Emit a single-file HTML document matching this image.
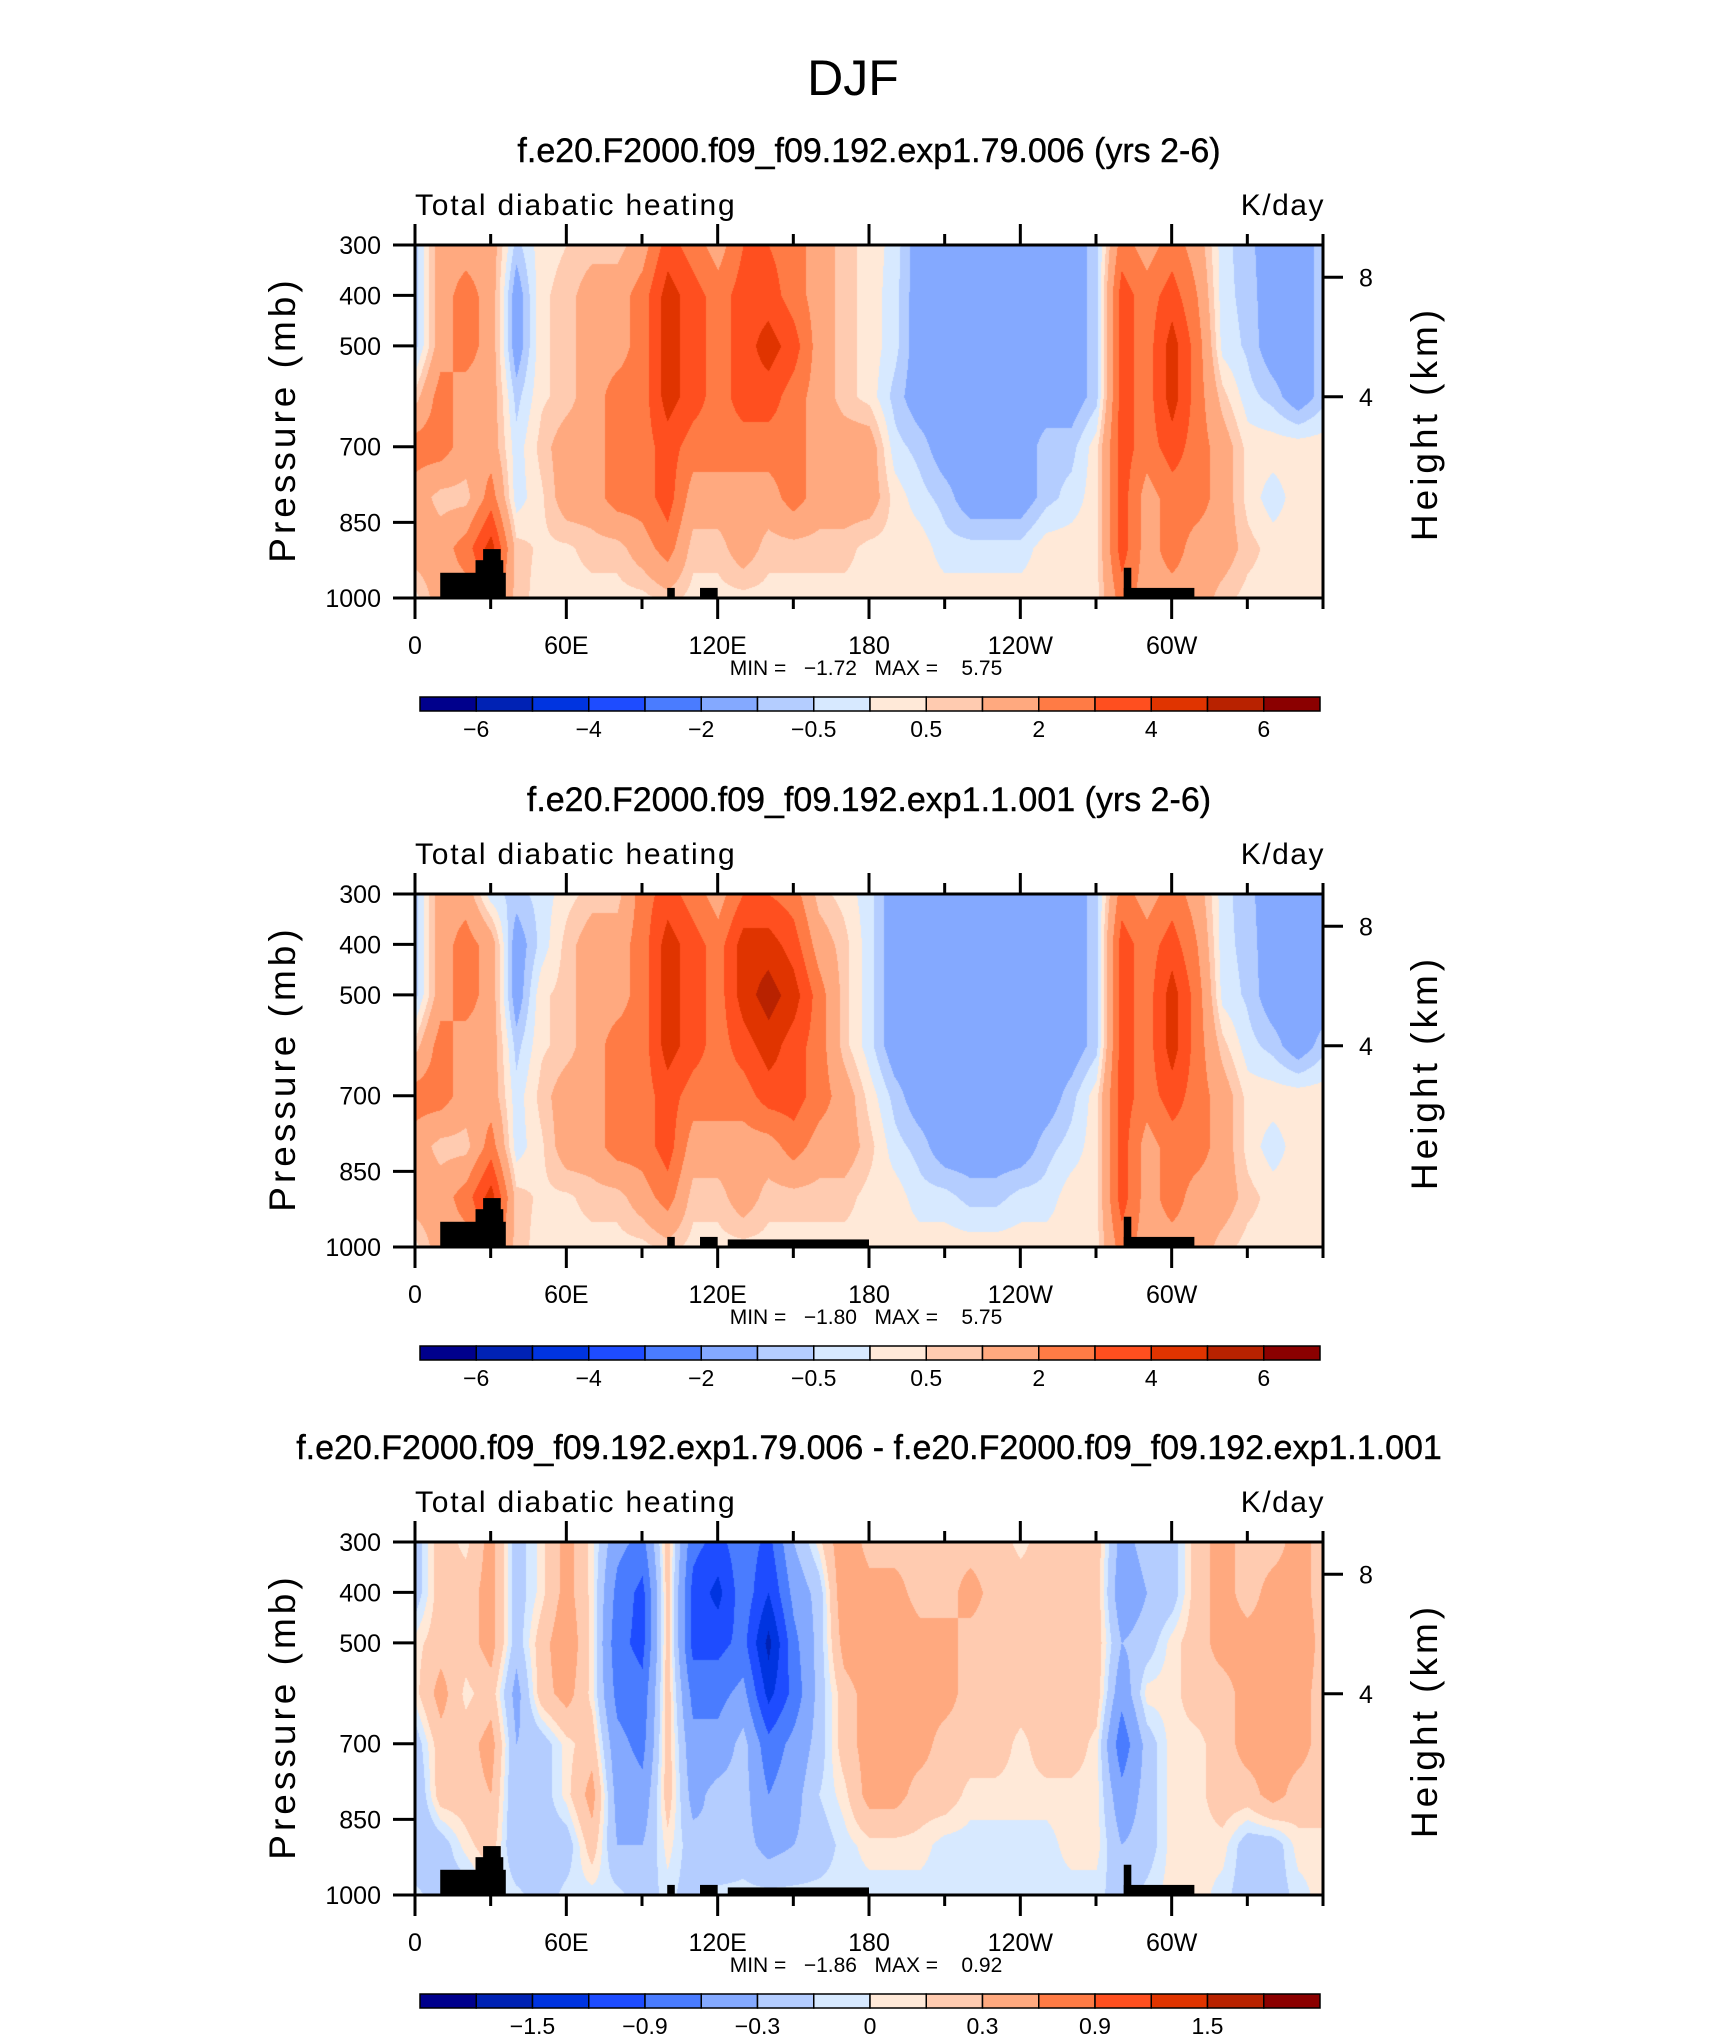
<!DOCTYPE html>
<html><head><meta charset="utf-8">
<style>
html,body{margin:0;padding:0;background:#fff;}
#wrap{position:relative;width:1710px;height:2038px;overflow:hidden;background:#fff;}
canvas{position:absolute;}
svg{position:absolute;left:0;top:0;}
text{font-family:"Liberation Sans",sans-serif;fill:#000;white-space:pre;}
</style></head>
<body>
<div id="wrap">
<canvas id="c0" width="908" height="353" style="left:415px;top:245px"></canvas>
<canvas id="c1" width="908" height="353" style="left:415px;top:894px"></canvas>
<canvas id="c2" width="908" height="353" style="left:415px;top:1542px"></canvas>
<svg id="svg" width="1710" height="2038">
<text x="853" y="95" font-size="50" text-anchor="middle">DJF</text>
</svg>
</div>
<script>
const lons = [0,10,20,30,40,50,60,70,80,90,100,110,120,130,140,150,160,170,180,190,200,210,220,230,240,250,260,270,280,290,300,310,320,330,340,350,360];
const levels = [300,400,500,600,700,800,900,1000];
const titles = ["f.e20.F2000.f09_f09.192.exp1.79.006 (yrs 2-6)","f.e20.F2000.f09_f09.192.exp1.1.001 (yrs 2-6)","f.e20.F2000.f09_f09.192.exp1.79.006 - f.e20.F2000.f09_f09.192.exp1.1.001"];
const minVals = ["\u22121.72","\u22121.80","\u22121.86"];
const maxVals = ["5.75","5.75","0.92"];
const xTickLabels = ["0","60E","120E","180","120W","60W"];
const pTicks = [300,400,500,700,850,1000];
const hTicks = [8,4];
const hTickP = [364,601];
const boundsAbs = [-6,-5,-4,-3,-2,-1,-0.5,0,0.5,1,2,3,4,5,6];
const boundsDiff = [-1.8,-1.5,-1.2,-0.9,-0.6,-0.3,-0.1,0,0.1,0.3,0.6,0.9,1.2,1.5,1.8];
const cbLabelsAbs = ["\u22126","\u22124","\u22122","\u22120.5","0.5","2","4","6"];
const cbLabelIdxAbs = [0,2,4,6,8,10,12,14];
const cbLabelsDiff = ["\u22121.5","\u22120.9","\u22120.3","0","0.3","0.9","1.5"];
const cbLabelIdxDiff = [1,3,5,7,9,11,13];
const colors = ["#00008c","#0022b4","#0034e0","#1e4cff","#4a7cff","#84a9ff","#b4cdff","#d7e9ff","#ffe9d8","#ffcbb0","#ffa97f","#ff7b45","#ff4f1f","#e03400","#b82200","#8b0000"];
const panel1 = [
[-0.7,1.5,1.5,1.5,-0.7,0.3,0.5,0.7,0.7,1.5,3.5,2.5,1.5,3,3,2.5,1.5,0.7,0.3,-0.2,-1.5,-1.5,-1.5,-1.5,-1.5,-1.5,-1.5,-0.7,2.5,1.5,2.5,1.5,-0.3,-0.8,-1.5,-1.5,-0.7],
[-0.7,1.5,2.5,1.5,-1.5,0.4,0.7,1.5,1.5,2.5,4.5,3.5,2.5,3.5,3.5,2.5,1.5,0.7,0.3,-0.3,-1.5,-1.5,-1.5,-1.5,-1.5,-1.5,-1.5,-0.7,3.5,2.5,3.5,2,-0.3,-0.7,-1.5,-1.5,-0.7],
[-0.7,1.5,2.5,1.5,-1.5,0.4,0.7,1.5,1.5,2.5,4.5,3.5,2.5,3.5,4.5,3.5,1.5,0.7,0.3,-0.3,-1.5,-1.5,-1.5,-1.5,-1.5,-1.5,-1.5,-0.7,3.5,2.5,4.5,2.5,-0.2,-0.6,-1.5,-1.5,-0.7],
[0.7,2.5,1.5,1.5,-0.7,0.4,0.7,1.5,2.5,2.5,4.5,3.5,2.5,3.5,3.5,2.5,1.5,0.7,0.3,-0.7,-1.5,-1.5,-1.5,-1.5,-1.5,-1.5,-1.5,-0.7,3.5,2.5,4.5,2.5,0.7,-0.3,-0.7,-1.5,-0.7],
[2.5,2.5,1.5,1.5,-0.3,0.7,1.5,1.5,2.5,2.5,3.5,2.5,2.5,2.5,2.5,2.5,1.5,1.5,1.5,-0.3,-0.7,-1.5,-1.5,-1.5,-1.5,-0.7,-0.7,0.3,3.5,2.5,3.5,2.5,1.5,0.3,0.3,0.3,0.3],
[1.5,0.7,0.7,2.5,-0.3,0.4,1.5,1.5,2.5,2.5,3.5,1.5,1.5,1.5,1.5,2.5,1.5,1.5,1.5,0.3,-0.3,-0.7,-1.5,-1.5,-1.5,-0.7,-0.3,0.3,3.5,1.5,2.5,2.5,1.5,0.3,-0.3,0.3,0.3],
[1.5,1.5,2.5,4.5,0.7,0.4,0.4,0.7,0.7,1.5,2.5,0.7,0.7,1.5,0.7,0.7,0.7,0.7,0.3,0.3,0.3,-0.3,-0.3,-0.3,-0.3,0.3,0.3,0.3,3.5,1.5,2.5,1.5,1.5,0.7,0.3,0.3,0.3],
[0.3,1.5,1.5,3,0.7,0.3,0.3,0.3,0.3,0.3,0.7,0.3,0.3,0.3,0.3,0.3,0.3,0.3,0.3,0.3,0.3,0.3,0.3,0.3,0.3,0.3,0.3,0.3,2.5,1.5,1.5,1.5,0.7,0.3,0.3,0.3,0.3]];
const panel2 = [
[-0.7,1.5,1.5,-0.3,-0.7,-0.3,0.3,0.7,0.7,2.5,3.5,2.5,1.5,3,3,2.5,0.7,0.3,-0.3,-1.5,-1.5,-1.5,-1.5,-1.5,-1.5,-1.5,-1.5,-0.7,2.5,1.5,2.5,1.5,-0.3,-0.8,-1.5,-1.5,-1.5],
[-0.7,1.5,2.5,1.5,-1.5,-0.3,0.7,1.5,1.5,2.5,4.5,3.5,2.5,4.5,4.5,3.5,1.5,0.7,-0.3,-1.5,-1.5,-1.5,-1.5,-1.5,-1.5,-1.5,-1.5,-0.7,3.5,2.5,3.5,2,-0.3,-0.7,-1.5,-1.5,-1.5],
[-0.7,1.5,2.5,1.5,-1.5,0.4,0.7,1.5,1.5,2.5,4.5,3.5,2.5,4.5,5.5,4.5,2.5,0.7,-0.3,-1.5,-1.5,-1.5,-1.5,-1.5,-1.5,-1.5,-1.5,-0.7,3.5,2.5,4.5,2.5,-0.2,-0.6,-1.5,-1.5,-1.5],
[0.7,2.5,1.5,1.5,-0.7,0.4,0.7,1.5,2.5,2.5,4.5,3.5,2.5,3.5,4.5,3.5,2.5,0.7,-0.3,-1.5,-1.5,-1.5,-1.5,-1.5,-1.5,-1.5,-1.5,-0.7,3.5,2.5,4.5,2.5,0.7,-0.3,-0.7,-1.5,-0.7],
[2.5,2.5,1.5,1.5,-0.3,0.7,1.5,1.5,2.5,2.5,3.5,2.5,2.5,2.5,3.5,3.5,2.5,1.5,0.3,-0.7,-1.5,-1.5,-1.5,-1.5,-1.5,-1.5,-0.7,0.3,3.5,2.5,3.5,2.5,1.5,0.3,0.3,0.3,0.3],
[1.5,0.7,0.7,2.5,-0.3,0.4,1.5,1.5,2.5,2.5,3.5,1.5,1.5,1.5,1.5,2.5,1.5,1.5,0.7,-0.3,-0.7,-1.5,-1.5,-1.5,-1.5,-0.7,-0.3,0.3,3.5,1.5,2.5,2.5,1.5,0.3,-0.3,0.3,0.3],
[1.5,1.5,2.5,4.5,0.7,0.4,0.4,0.7,0.7,1.5,2.5,0.7,0.7,1.5,0.7,0.7,0.7,0.7,0.3,0.3,-0.3,-0.3,-0.7,-0.7,-0.3,-0.3,0.3,0.3,3.5,1.5,2.5,1.5,1.5,0.7,0.3,0.3,0.3],
[0.3,1.5,1.5,3,0.7,0.3,0.3,0.3,0.3,0.3,0.7,0.3,0.3,0.3,0.3,0.3,0.3,0.3,0.3,0.3,0.3,0.3,0.3,0.3,0.3,0.3,0.3,0.3,2.5,1.5,1.5,1.5,0.7,0.3,0.3,0.3,0.3]];
const panel3 = [
[-0.2,0.2,0.05,0.4,-0.2,0.05,0.4,0.05,-0.5,-0.7,0.2,-0.8,-1.0,-0.7,-1.0,-0.3,0.05,0.5,0.2,0.2,0.2,0.2,0.2,0.2,0.05,0.2,0.2,0.2,-0.4,-0.2,-0.2,0.2,0.4,0.2,0.2,0.4,0.2],
[-0.2,0.2,0.2,0.4,-0.2,0.05,0.4,0.05,-0.7,-1.0,0.2,-1.0,-1.3,-0.7,-1.2,-0.5,-0.2,0.5,0.4,0.4,0.2,0.2,0.4,0.2,0.2,0.2,0.2,0.2,-0.5,-0.3,-0.2,0.2,0.4,0.2,0.4,0.4,0.2],
[0.05,0.2,0.2,0.4,-0.2,0.2,0.5,0.05,-0.8,-1.0,0.2,-1.0,-1.0,-0.8,-1.6,-0.7,-0.2,0.4,0.5,0.5,0.4,0.4,0.2,0.2,0.2,0.2,0.2,0.2,-0.3,-0.2,0.05,0.2,0.4,0.4,0.4,0.5,0.2],
[0.05,0.4,0.05,0.2,-0.4,0.2,0.4,0.05,-0.7,-0.8,0.2,-0.7,-0.7,-0.5,-1.3,-0.8,-0.2,0.2,0.4,0.4,0.4,0.4,0.2,0.2,0.2,0.2,0.2,0.2,-0.5,0.05,0.05,0.2,0.2,0.4,0.4,0.4,0.2],
[-0.2,0.2,0.2,0.4,-0.3,-0.2,0.05,0.2,-0.5,-0.7,0.2,-0.5,-0.5,-0.2,-0.8,-0.5,-0.2,0.2,0.4,0.4,0.4,0.2,0.2,0.2,0.05,0.2,0.2,0.05,-0.8,-0.2,0.05,0.05,0.2,0.4,0.4,0.4,0.2],
[-0.3,0.2,0.2,0.3,-0.3,-0.2,0.05,0.4,-0.4,-0.5,0.2,-0.4,-0.2,-0.2,-0.6,-0.4,-0.1,0.05,0.4,0.4,0.2,0.2,0.05,0.05,0.05,0.05,0.05,0.05,-0.5,-0.2,0.05,0.05,0.2,0.2,0.4,0.2,0.2],
[-0.3,-0.2,0.05,0.2,-0.3,-0.2,-0.2,0.2,-0.3,-0.3,0.05,-0.2,-0.3,-0.2,-0.4,-0.3,-0.2,-0.05,0.05,0.05,0.05,-0.05,-0.05,-0.05,-0.05,-0.05,0.05,0.05,-0.3,-0.2,0.05,0.05,0.05,-0.2,-0.2,0.05,0.05],
[-0.05,-0.2,-0.2,0.05,-0.05,-0.2,-0.05,-0.05,-0.05,-0.2,-0.05,-0.2,-0.05,-0.05,-0.05,-0.05,-0.05,-0.05,-0.05,-0.05,-0.05,-0.05,-0.05,-0.05,-0.05,-0.05,-0.05,-0.05,-0.2,-0.05,0.05,0.05,-0.05,-0.2,-0.2,-0.05,0.05]];
const terrainLonStart1 = [10,24,27,100,113,281,281];
const terrainLonEnd1 = [36,35,34,103,120,284,309];
const terrainTopP1 = [950,925,903,980,980,940,980];
const terrainLonStart2 = [10,24,27,100,113,124,281,281];
const terrainLonEnd2 = [36,35,34,103,120,180,284,309];
const terrainTopP2 = [950,925,903,980,980,985,940,980];

const PL=415, PR=1323, PH=353, PW=908;
const panelTops=[245,894,1542];
const datasets=[panel1,panel2,panel3];
const boundsSets=[boundsAbs,boundsAbs,boundsDiff];
const NS="http://www.w3.org/2000/svg";
const svg=document.getElementById('svg');
function xOf(lon){return PL+lon/360*PW;}
function yOf(p,top){return top+(p-300)/700*PH;}
function mk(tag,attrs,parent){const e=document.createElementNS(NS,tag);for(const k in attrs)e.setAttribute(k,attrs[k]);(parent||svg).appendChild(e);return e;}
function hex(h){return [parseInt(h.substr(1,2),16),parseInt(h.substr(3,2),16),parseInt(h.substr(5,2),16)];}
const rgb=colors.map(hex);
function sample(data,lon,p){
  let i=Math.min(lons.length-2,Math.max(0,Math.floor(lon/10)));let fx=(lon-lons[i])/10;
  let j=0;while(j<levels.length-2&&p>levels[j+1])j++;let fy=(p-levels[j])/(levels[j+1]-levels[j]);
  fx=Math.max(0,Math.min(1,fx));fy=Math.max(0,Math.min(1,fy));
  const a=data[j][i],b=data[j][i+1],c=data[j+1][i],d=data[j+1][i+1];
  return a*(1-fx)*(1-fy)+b*fx*(1-fy)+c*(1-fx)*fy+d*fx*fy;
}
function cls(v,b){let k=0;while(k<b.length&&v>=b[k])k++;return k;}

for(let n=0;n<3;n++){
  const cv=document.getElementById('c'+n),ctx=cv.getContext('2d');
  const img=ctx.createImageData(PW,PH);const data=datasets[n],b=boundsSets[n];
  for(let y=0;y<PH;y++){const p=300+y/PH*700;
    for(let x=0;x<PW;x++){const lon=x/PW*360;const c=rgb[cls(sample(data,lon,p),b)];
      const o=(y*PW+x)*4;img.data[o]=c[0];img.data[o+1]=c[1];img.data[o+2]=c[2];img.data[o+3]=255;}}
  ctx.putImageData(img,0,0);
  const top=panelTops[n];
  const ts=n==0?terrainLonStart1:terrainLonStart2, te=n==0?terrainLonEnd1:terrainLonEnd2, tp=n==0?terrainTopP1:terrainTopP2;
  for(let k=0;k<ts.length;k++){
    const r=mk('rect',{x:xOf(ts[k]),y:yOf(tp[k],top),width:xOf(te[k])-xOf(ts[k]),height:yOf(1000,top)-yOf(tp[k],top),fill:'#000'});
    
    
  }
  const t=mk('text',{x:869,y:top-83,'font-size':34,'text-anchor':'middle','stroke':'#000','stroke-width':0.4});t.textContent=titles[n];
  
  
  const l=mk('text',{x:415,y:top-30,'font-size':30,'letter-spacing':'1.8'});l.textContent='Total diabatic heating';
  
  
  const u=mk('text',{x:1325,y:top-30,'font-size':30,'text-anchor':'end','letter-spacing':'1.5'});u.textContent='K/day';
  
  
  const fr=mk('rect',{x:PL,y:top,width:PW,height:PH,fill:'none',stroke:'#000','stroke-width':3});
  
  
  for(let lon=0;lon<=360;lon+=30){const maj=lon%60==0&&lon<360;const x=xOf(lon);
    const len=maj?21:11;
    const tt=mk('line',{x1:x,x2:x,y1:top,y2:top-len,stroke:'#000','stroke-width':3});
    
    
    const bt=mk('line',{x1:x,x2:x,y1:top+PH,y2:top+PH+len,stroke:'#000','stroke-width':3});
    
    }
  xTickLabels.forEach((s,i)=>{const e=mk('text',{x:xOf(i*60),y:top+409,'font-size':25,'text-anchor':'middle'});e.textContent=s;
    
    });
  pTicks.forEach(p=>{const y=yOf(p,top);
    const ln=mk('line',{x1:PL-22,x2:PL,y1:y,y2:y,stroke:'#000','stroke-width':3});
    
    
    const e=mk('text',{x:381,y:y+9,'font-size':25,'text-anchor':'end'});e.textContent=p;
    
    });
  hTicks.forEach((h,i)=>{const y=yOf(hTickP[i],top);
    const ln=mk('line',{x1:PR,x2:PR+20,y1:y,y2:y,stroke:'#000','stroke-width':3});
    
    
    const e=mk('text',{x:1366,y:y+9,'font-size':25,'text-anchor':'middle'});e.textContent=h;
    
    });
  const ya=mk('text',{x:0,y:0,'font-size':37,'text-anchor':'middle','letter-spacing':'4',transform:`translate(295,${top+PH/2-2}) rotate(-90)`});ya.textContent='Pressure (mb)';
  
  
  const ha=mk('text',{x:0,y:0,'font-size':37,'text-anchor':'middle','letter-spacing':'4',transform:`translate(1437,${top+PH/2+2}) rotate(-90)`});ha.textContent='Height (km)';
  
  
  const mm=mk('text',{x:866,y:top+430,'font-size':21,'text-anchor':'middle'});mm.textContent='MIN =   '+minVals[n]+'   MAX =    '+maxVals[n];
  
  
  const cy=top+452,cx0=420,cw=900/16;
  for(let k=0;k<16;k++){const r=mk('rect',{x:cx0+k*cw,y:cy,width:cw,height:14,fill:colors[k],stroke:'#000','stroke-width':1.5});
    
    }
  const labs=n<2?cbLabelsAbs:cbLabelsDiff, idx=n<2?cbLabelIdxAbs:cbLabelIdxDiff;
  labs.forEach((s,i)=>{const e=mk('text',{x:cx0+(idx[i]+1)*cw,y:cy+40,'font-size':23,'text-anchor':'middle'});e.textContent=s;
    
    });
}
</script>
</body></html>
